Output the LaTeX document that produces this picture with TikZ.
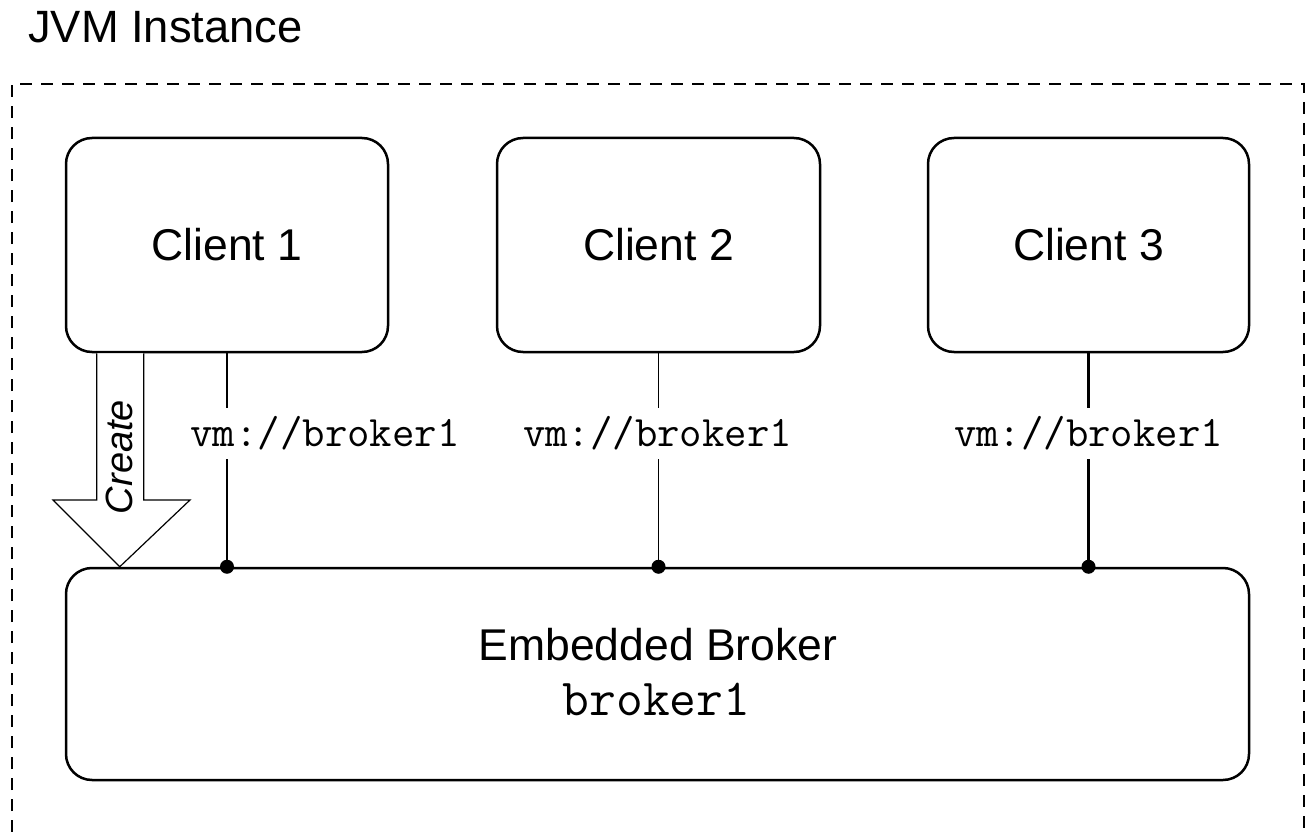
\documentclass[tikz,border=0pt]{standalone}
\usepackage{fontspec}
\setmainfont{Liberation Sans}
\usetikzlibrary{calc}
\begin{document}
\begin{tikzpicture}[x=1pt,y=-1pt,
  box/.style={draw, line width=2.5pt, rounded corners=26pt, inner sep=0pt, fill=white},
  boxtxt/.style={font=\fontsize{44.5}{50}\selectfont},
  urltxt/.style={font=\fontsize{43.5}{46}\selectfont\ttfamily, fill=white, inner xsep=2pt, inner ysep=0pt, minimum height=51pt},
  conn/.style={line width=2.3pt},
  thinconn/.style={line width=1.3pt},
  dot/.style={circle, fill=black, inner sep=0pt, minimum size=14pt},
  frame/.style={line width=2.3pt, dash pattern=on 12pt off 9pt}]
\useasboundingbox (0,0) rectangle (1307,832);
% title
\node[anchor=base west, inner sep=0pt, font=\fontsize{45.3}{50}\selectfont] (title) at (28,43) {JVM Instance};
% dashed frame (open at the bottom, runs off the picture)
\coordinate (fbl) at (12,832);
\coordinate (ftl) at (12,84);
\coordinate (ftr) at (1304,84);
\coordinate (fbr) at (1304,832);
\draw[frame] (fbl) -- (ftl) -- (ftr) -- (fbr);
% clients
\node[box, boxtxt, minimum width=322pt, minimum height=214pt] (c1) at (227,245) {Client 1};
\node[box, boxtxt, minimum width=323pt, minimum height=214pt] (c2) at (658.5,245) {Client 2};
\node[box, boxtxt, minimum width=321pt, minimum height=214pt] (c3) at (1088.5,245) {Client 3};
% broker
\node[box, minimum width=1183pt, minimum height=212pt] (br) at (657.5,674) {};
\node[anchor=base, inner sep=0pt, boxtxt] (brname) at (658,660) {Embedded Broker};
\node[anchor=base, inner sep=0pt, font=\fontsize{52}{56}\selectfont\ttfamily] (brid) at (656.5,715) {broker1};
% create arrow
\coordinate (cs1) at ($(c1.south west)+(32,0)$);
\coordinate (cs2) at ($(c1.south west)+(79,0)$);
\coordinate (tip) at ($(br.north west)+(55,0)$);
\draw[line width=1.2pt, fill=white] (cs1) -- (cs1 |- 0,500) -- (53,500) -- (tip) -- (190,500) -- (cs2 |- 0,500) -- (cs2);
\node[rotate=90, inner sep=0pt, font=\fontsize{38}{40}\selectfont\itshape] (create) at (119,457) {Create};
% connectors
\coordinate (d1) at (c1.south |- br.north);
\coordinate (d2) at (c2.south |- br.north);
\coordinate (d3) at (c3.south |- br.north);
\draw[conn] (c1.south) -- (d1);
\draw[thinconn] (c2.south) -- (d2);
\draw[conn] (c3.south) -- (d3);
\node[dot] (p1) at (d1) {};
\node[dot] (p2) at (d2) {};
\node[dot] (p3) at (d3) {};
% url labels
\node[urltxt] (u1) at (325,433) {vm://broker1};
\node[urltxt] (u2) at (657.5,433) {vm://broker1};
\node[urltxt] (u3) at (1088.5,433) {vm://broker1};
\end{tikzpicture}
\end{document}
